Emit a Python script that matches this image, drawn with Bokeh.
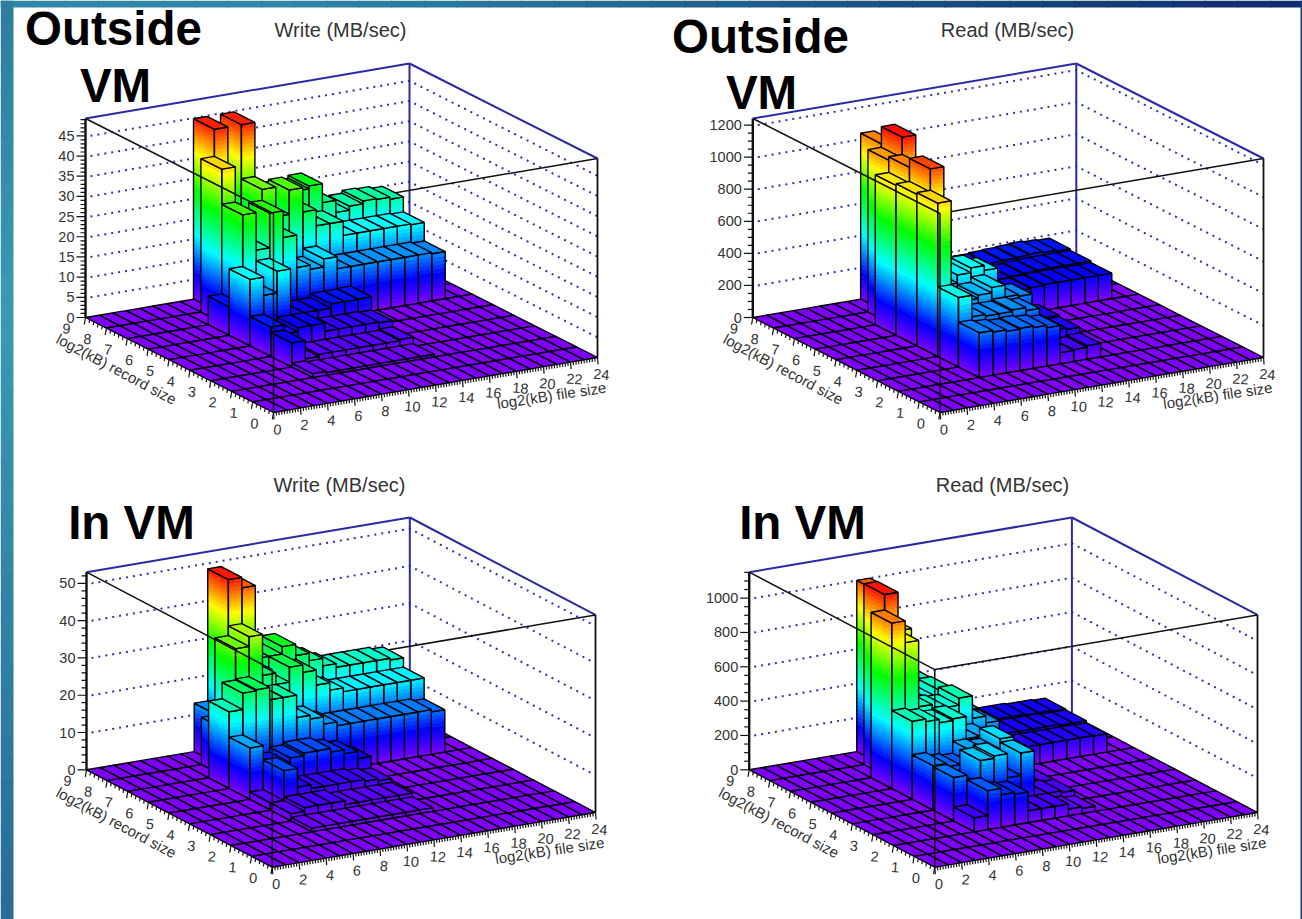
from bokeh.plotting import figure
from bokeh.embed import file_html
from bokeh.resources import INLINE
from bokeh.core.properties import value
from bokeh.models import Range1d

# Rows are record-size bins (upper edge 9 down to 3); columns are file-size bins 6..21
FILE_BINS = list(range(6, 22))
ROW_TOPS = [9, 8, 7, 6, 5, 4, 3]

write_outside = [
    [0, 0, 44.7, 22, 44.7, 25, 25, 26, 26, 26.7, 22, 19, 20, 20.7, 20.5, 20],
    [0, 38, 20, 22, 31.3, 24, 30, 24, 20, 20, 16.5, 16.5, 16.5, 16.5, 16.5, 16.3],
    [7.1, 29.3, 20, 28.6, 22, 14, 13, 15, 12, 12, 12, 12, 12, 12, 12, 11.7],
    [16.5, 12, 17.4, 6, 6, 6, 7, 7, 7.1],
    [7.3, 5, 6, 6, 4, 4, 4, 4, 3.8],
    [6, 1.5, 2, 2, 2, 2, 2, 2, 2.3],
    [1, 0.7, 0.7, 0.7, 0.7, 0.7, 0.7, 0.7, 0.7],
]
read_outside = [
    [0, 0, 1035, 180, 180, 175, 170, 170, 170, 170, 175, 180, 185, 190, 185, 180],
    [0, 1013, 1142, 300, 180, 170, 165, 160, 155, 155, 160, 165, 170, 170, 170, 170],
    [936, 1034, 320, 350, 300, 140, 130, 120, 120, 150, 155, 160, 160, 160, 160, 160],
    [946, 1090, 350, 400, 430, 400, 130, 120, 110],
    [957, 320, 320, 340, 374, 300, 290, 130, 130],
    [434, 300, 290, 290, 300, 280, 140, 130, 120],
    [280, 270, 260, 265, 255, 240, 70, 75, 85],
]
write_inside = [
    [0, 0, 13, 48.4, 45.6, 26, 26, 28, 25, 23, 21, 20, 20, 20, 20, 19.5],
    [0, 12.7, 33.4, 36, 25, 22, 26, 24, 20, 18, 17, 17, 17, 17, 17, 17],
    [20.6, 25, 25.3, 22, 22, 16, 15, 13, 12, 12, 12, 12, 12, 12, 12, 11.4],
    [13.8, 4, 8, 9.3, 10, 10, 9, 8, 6],
    [2, 10, 5, 4, 4, 4, 4, 3.5, 3],
    [2, 3, 3, 3, 2, 2, 2, 2, 2],
    [1, 1, 1, 1, 1, 1, 1, 1, 1],
]
read_inside = [
    [0, 0, 997, 420, 400, 440, 360, 320, 140, 140, 135, 135, 135, 130, 130, 125],
    [0, 1054, 830, 420, 400, 447, 340, 300, 130, 125, 125, 125, 125, 125, 120, 120],
    [964, 837, 450, 430, 420, 461, 330, 290, 115, 110, 110, 110, 110, 110, 110, 107],
    [455, 440, 420, 430, 300, 300, 100, 80, 60],
    [260, 240, 230, 300, 290, 350, 280, 60, 60],
    [254, 190, 326, 340, 200, 330, 70, 70, 60],
    [82, 227, 190, 180, 70, 70, 70, 40, 30],
]

write_outside_z_ticks = [0, 5, 10, 15, 20, 25, 30, 35, 40, 45]
read_outside_z_ticks = [0, 200, 400, 600, 800, 1000, 1200]
write_inside_z_ticks = [0, 10, 20, 30, 40, 50]
read_inside_z_ticks = [0, 200, 400, 600, 800, 1000]
x_tick_labels = list(range(0, 25, 2))
y_tick_labels = list(range(0, 10))

PALETTE = [(0.0, (127, 0, 255)), (0.13, (0, 0, 255)), (0.33, (0, 255, 255)),
           (0.55, (0, 255, 0)), (0.74, (255, 255, 0)), (0.93, (255, 0, 0)), (1.0, (255, 0, 0))]
N_BANDS = 50


def colour(t):
    t = max(0.0, min(1.0, t))
    for (a, ca), (b, cb) in zip(PALETTE, PALETTE[1:]):
        if t <= b:
            f = (t - a) / (b - a)
            return "#%02x%02x%02x" % tuple(int(round(u + (v - u) * f)) for u, v in zip(ca, cb))
    return "#ff0000"


p = figure(width=1302, height=919, x_range=Range1d(0, 1302), y_range=Range1d(919, 0),
           toolbar_location=None, output_backend="svg", min_border=0,
           x_axis_type=None, y_axis_type=None, outline_line_color=None)
p.grid.visible = False
p.margin = 0

# slide background
seg = 40
xs0 = [1302 * i / seg for i in range(seg + 1)]
for i in range(seg):
    t = i / (seg - 1)
    t2 = max(0, (t - 0.2) / 0.8)
    c = "#%02x%02x%02x" % (int(47 - 33 * t2), int(136 - 90 * t2), int(165 - 57 * t2))
    p.quad(left=xs0[i], right=xs0[i + 1] + 1, top=0, bottom=7, fill_color=c, line_color=None)
for i in range(seg):
    t = i / (seg - 1)
    if t < 0.33:
        f = t / 0.33
        c = (45 + 13 * f, 126 + 28 * f, 160 + 21 * f)
    else:
        f = (t - 0.33) / 0.67
        c = (58 - 16 * f, 154 - 46 * f, 181 - 29 * f)
    c = "#%02x%02x%02x" % tuple(int(v) for v in c)
    p.quad(left=0, right=13, top=919 * i / seg, bottom=919 * (i + 1) / seg + 1,
           fill_color=c, line_color=None)
p.quad(left=1300, right=1302, top=0, bottom=919, fill_color="#123a78", line_color=None)


def panel(rows, F, L, R, H, zmax, z_ticks, minor, title, title_x, title_y):
    ex = ((R[0] - F[0]) / 24, (R[1] - F[1]) / 24)
    ey = ((L[0] - F[0]) / 9, (L[1] - F[1]) / 9)
    zs = H / zmax

    def P(x, y, z=0.0):
        return (F[0] + x * ex[0] + y * ey[0], F[1] + x * ex[1] + y * ey[1] - z * zs)

    heights = {}
    for top, row in zip(ROW_TOPS, rows):
        for b, v in zip(FILE_BINS, row):
            heights[(b, top - 1)] = v

    # back walls
    for z in z_ticks[1:]:
        a, b, c = P(0, 9, z), P(24, 9, z), P(24, 0, z)
        p.line([a[0] + 5, b[0], c[0]], [a[1], b[1], c[1]], line_color="#3030b8",
               line_width=2, line_dash="2 5")
    for a, b in [(P(0, 9, zmax), P(24, 9, zmax)), (P(24, 9, zmax), P(24, 0, zmax)),
                 (P(24, 9), P(24, 9, zmax))]:
        p.line([a[0], b[0]], [a[1], b[1]], line_color="#2a2aa8", line_width=2)
    a, b = P(24, 0), P(24, 0, zmax)
    p.line([a[0], b[0]], [a[1], b[1]], line_color="#111111", line_width=1.8)
    a, b = P(0, 0, zmax), P(24, 0, zmax)
    p.line([a[0], b[0]], [a[1], b[1]], line_color="#111111", line_width=1.5)
    a, b = P(0, 9), P(0, 9, zmax)
    p.line([a[0], b[0]], [a[1], b[1]], line_color="#111111", line_width=2.4)

    xs, ys, fills, alphas, lines, widths = [], [], [], [], [], []

    def add(poly, fill, alpha, line, width):
        xs.append([q[0] for q in poly])
        ys.append([q[1] for q in poly])
        fills.append(fill)
        alphas.append(alpha)
        lines.append(line)
        widths.append(width)

    for iy in range(8, -1, -1):
        for ix in range(23, -1, -1):
            z = heights.get((ix, iy), 0)
            if z > 0:
                n = max(1, int(round(z / zmax * N_BANDS)))
                for k in range(n):
                    z0, z1 = z * k / n, z * (k + 1) / n
                    col = colour((z0 + z1) / 2 / zmax)
                    add([P(ix, iy + 1, z0), P(ix, iy, z0), P(ix, iy, z1), P(ix, iy + 1, z1)], col, 1, col, 0.6)
                    add([P(ix, iy, z0), P(ix + 1, iy, z0), P(ix + 1, iy, z1), P(ix, iy, z1)], col, 1, col, 0.6)
                add([P(ix, iy + 1, 0), P(ix, iy, 0), P(ix, iy, z), P(ix, iy + 1, z)], "#000000", 0, "#000000", 1.4)
                add([P(ix, iy, 0), P(ix + 1, iy, 0), P(ix + 1, iy, z), P(ix, iy, z)], "#000000", 0, "#000000", 1.4)
            add([P(ix, iy, z), P(ix + 1, iy, z), P(ix + 1, iy + 1, z), P(ix, iy + 1, z)],
                colour(z / zmax), 1, "#000000", 1.4)
    p.patches(xs, ys, fill_color=fills, fill_alpha=alphas, line_color=lines, line_width=widths)

    # front frame drawn over the bars
    a, b, c = P(0, 9, zmax), P(0, 0, zmax), P(0, 0)
    p.line([a[0], b[0], c[0]], [a[1], b[1], c[1]], line_color="#111111", line_width=1.5)

    # axes
    tx0, ty0, tx1, ty1 = [], [], [], []

    def tick(q, dx, dy):
        tx0.append(q[0]); ty0.append(q[1]); tx1.append(q[0] + dx); ty1.append(q[1] + dy)

    for i in range(int(zmax / minor) + 1):
        z = i * minor
        major = any(abs(z - t) < 1e-6 for t in z_ticks)
        tick(P(0, 9, z), -9 if major else -5, 0)
    for i in range(0, 121):
        x = i / 5
        tick(P(x, 0), 0.6 if i % 10 == 0 else 0.3, 7 if i % 10 == 0 else 3.5)
    for i in range(0, 46):
        y = i / 5
        tick(P(0, y), -1.2 if i % 5 == 0 else -0.6, 7 if i % 5 == 0 else 3.5)
    p.segment(tx0, ty0, tx1, ty1, line_color="#111111", line_width=1.2)

    zl = [P(0, 9, t) for t in z_ticks]
    p.text([q[0] - 11 for q in zl], [q[1] for q in zl], text=[str(t) for t in z_ticks],
           text_font=value("Liberation Sans"), text_font_size="14.5px", text_color="#333333",
           text_align="right", text_baseline="middle")
    xl = [P(t, 0) for t in x_tick_labels]
    p.text([q[0] + 4 for q in xl], [q[1] + 17 for q in xl], text=[str(t) for t in x_tick_labels],
           text_font=value("Liberation Sans"), text_font_size="14.5px", text_color="#333333",
           text_align="center", text_baseline="middle", angle=-0.08, angle_units="rad")
    yl = [P(0, t) for t in y_tick_labels]
    p.text([q[0] - 19 for q in yl], [q[1] + 11 for q in yl], text=[str(t) for t in y_tick_labels],
           text_font=value("Liberation Sans"), text_font_size="14.5px", text_color="#333333",
           text_align="center", text_baseline="middle", angle=-0.08, angle_units="rad")
    q = P(0, 4.5)
    p.text([q[0] - 63], [q[1] + 4], text=["log2(kB) record size"], text_font=value("Liberation Sans"),
           text_font_size="15px", text_color="#333333", text_align="center", text_baseline="middle",
           angle=-0.49, angle_units="rad")
    q = P(20.6, 0)
    p.text([q[0] + 0], [q[1] + 30], text=["log2(kB) file size"], text_font=value("Liberation Sans"),
           text_font_size="15px", text_color="#333333", text_align="center", text_baseline="middle",
           angle=0.15, angle_units="rad")
    p.text([title_x], [title_y], text=[title], text_font=value("Liberation Sans"), text_font_size="20px",
           text_color="#333333", text_align="center", text_baseline="middle")


panel(write_outside, (273, 412), (85, 317), (597, 357), 199, 49.3, write_outside_z_ticks, 1,
      "Write (MB/sec)", 340, 29)
panel(read_outside, (939.5, 412), (752.3, 317), (1263, 357), 199, 1241, read_outside_z_ticks, 50,
      "Read (MB/sec)", 1007, 29)
panel(write_inside, (271.7, 866.7), (86, 769.3), (595, 812), 197.6, 53, write_inside_z_ticks, 2,
      "Write (MB/sec)", 339, 484)
panel(read_inside, (934.3, 866.7), (748.7, 769.3), (1257, 812), 197.6, 1151, read_inside_z_ticks, 50,
      "Read (MB/sec)", 1002, 484)

labels = [("Outside", 113, 27.5), ("VM", 115, 84.5), ("Outside", 760, 35.5), ("VM", 761, 91.5),
          ("In VM", 131, 521.5), ("In VM", 802, 521.5)]
p.text([a[1] for a in labels], [a[2] for a in labels], text=[a[0] for a in labels],
       text_font=value("Liberation Sans"), text_font_size="47.5px", text_font_style="bold",
       text_color="#000000", text_align="center", text_baseline="middle")

open("out.html", "w").write(file_html(p, INLINE))
